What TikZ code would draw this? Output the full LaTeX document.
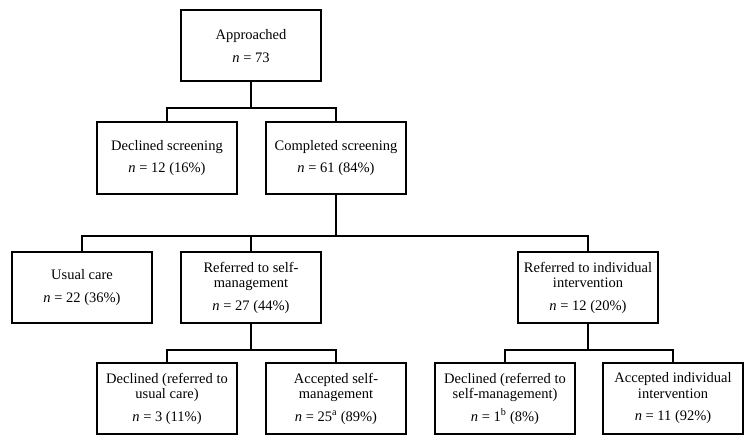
\documentclass[tikz,border=0pt]{standalone}
\usepackage{fontspec}
\setmainfont{Liberation Serif}
\begin{document}
\begin{tikzpicture}[x=1pt,y=1pt,
  box/.style={draw,line width=2pt,minimum width=140pt,minimum height=71pt,align=center,inner sep=2pt,
    font=\fontsize{14.5}{15.5}\selectfont},
  conn/.style={line width=2pt}]
\useasboundingbox (0,0) rectangle (754,445);
\node[box] (app) at (251,399) {Approached\\[7pt]\textit{n} = 73};
\node[box] (dec) at (167,287) {Declined screening\\[7pt]\textit{n} = 12 (16\%)};
\node[box] (comp) at (336,287) {Completed screening\\[7pt]\textit{n} = 61 (84\%)};
\node[box] (usual) at (82,157.5) {Usual care\\[7pt]\textit{n} = 22 (36\%)};
\node[box] (refself) at (251,157.5) {Referred to self-\\management\\[7pt]\textit{n} = 27 (44\%)};
\node[box] (refind) at (588,157.5) {Referred to individual\\intervention\\[7pt]\textit{n} = 12 (20\%)};
\node[box] (dec2) at (167,46.5) {Declined (referred to\\usual care)\\[7pt]\textit{n} = 3 (11\%)};
\node[box] (acc2) at (336,46.5) {Accepted self-\\management\\[7pt]\textit{n} = 25\textsuperscript{a} (89\%)};
\node[box] (dec3) at (505,46.5) {Declined (referred to\\self-management)\\[7pt]\textit{n} = 1\textsuperscript{b} (8\%)};
\node[box] (acc3) at (673,46.5) {Accepted individual\\intervention\\[7pt]\textit{n} = 11 (92\%)};
\coordinate (j1) at (251,337);
\coordinate (j2) at (336,209);
\coordinate (j3) at (251,95);
\coordinate (j4) at (588,95);
\draw[conn] (app.south) -- (j1);
\draw[conn] (dec.north) |- (j1) -| (comp.north);
\draw[conn] (comp.south) -- (j2);
\draw[conn] (usual.north) |- (j2) -| (refind.north);
\draw[conn] (refself.north) -- (refself.north |- j2);
\draw[conn] (refself.south) -- (j3);
\draw[conn] (dec2.north) |- (j3) -| (acc2.north);
\draw[conn] (refind.south) -- (j4);
\draw[conn] (dec3.north) |- (j4) -| (acc3.north);
\end{tikzpicture}
\end{document}
